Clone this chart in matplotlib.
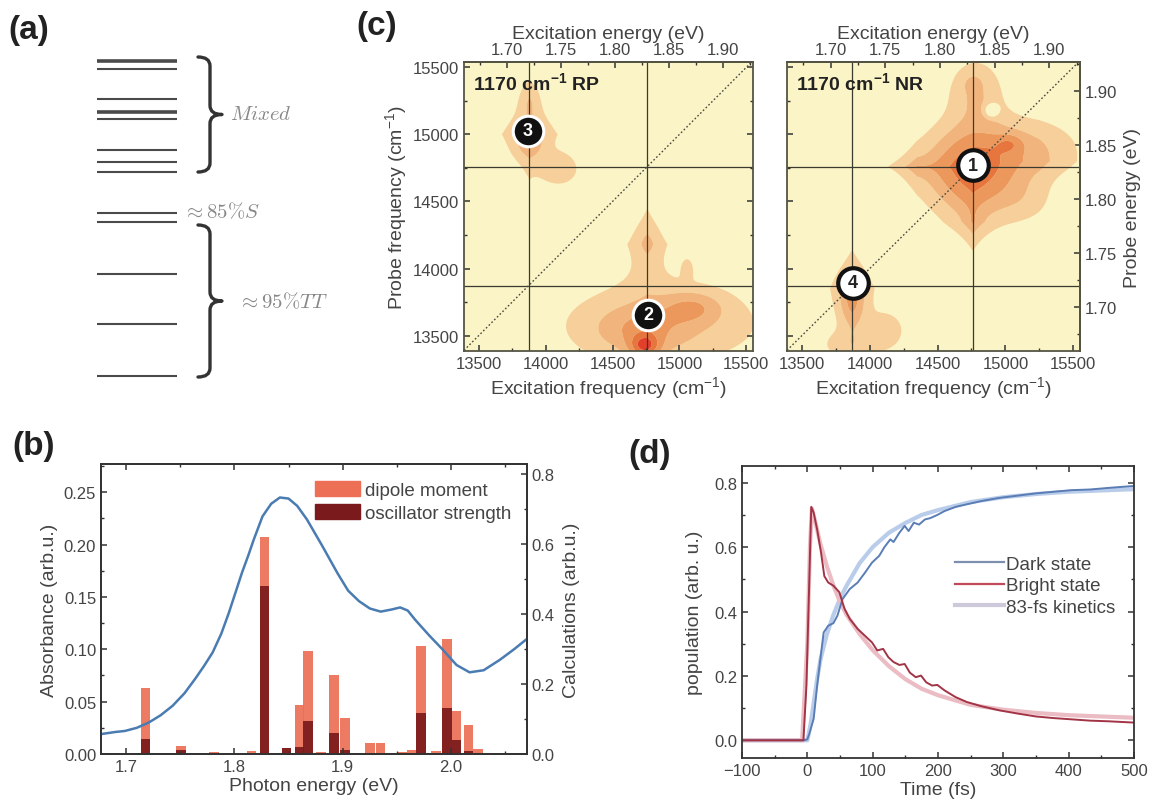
import numpy as np
import matplotlib
matplotlib.use("Agg")
import matplotlib.pyplot as plt
from matplotlib.path import Path
from matplotlib.patches import PathPatch, Patch
from matplotlib.lines import Line2D
from matplotlib.ticker import MultipleLocator, FormatStrFormatter, FixedLocator

# ---------------- data ----------------
# (a) energy levels (schematic, vertical position in px of the panel)
level_y = [61.5, 70, 99.5, 112.5, 120, 151, 162.5, 172.5, 213.5, 222.5, 274.5, 325, 377]
level_thick = [0, 3]

# (b) absorbance spectrum
abs_ev = [1.677, 1.690, 1.699, 1.710, 1.721, 1.732, 1.743, 1.754, 1.764, 1.772, 1.780, 1.788,
          1.795, 1.801, 1.807, 1.813, 1.818, 1.826, 1.834, 1.842, 1.850, 1.858, 1.867, 1.881,
          1.895, 1.905, 1.915, 1.925, 1.935, 1.945, 1.953, 1.960, 1.967, 1.980, 1.992, 2.005,
          2.017, 2.030, 2.045, 2.058, 2.070]
abs_val = [0.019, 0.021, 0.022, 0.025, 0.030, 0.037, 0.046, 0.058, 0.072, 0.084, 0.097, 0.115,
           0.135, 0.154, 0.173, 0.190, 0.205, 0.227, 0.239, 0.245, 0.244, 0.237, 0.224, 0.199,
           0.173, 0.156, 0.146, 0.139, 0.136, 0.138, 0.140, 0.137, 0.128, 0.113, 0.100, 0.085,
           0.078, 0.080, 0.090, 0.100, 0.110]
# (b) calculated transitions
calc_ev = [1.718, 1.751, 1.781, 1.816, 1.828, 1.848, 1.860, 1.868, 1.880, 1.892, 1.902, 1.925,
           1.935, 1.955, 1.964, 1.972, 1.986, 1.996, 2.005, 2.016, 2.025]
dipole = [0.19, 0.022, 0.006, 0.010, 0.62, 0.018, 0.14, 0.295, 0.006, 0.225, 0.102, 0.031,
          0.031, 0.006, 0.012, 0.31, 0.010, 0.33, 0.122, 0.083, 0.015]
oscill = [0.043, 0.012, 0.003, 0.004, 0.48, 0.016, 0.02, 0.094, 0.003, 0.060, 0.012, 0.004,
          0.004, 0.004, 0.004, 0.116, 0.004, 0.131, 0.040, 0.010, 0.004]

# (c) 2D maps: crosshair positions, energy ticks and peak labels
cross_ev = [1.72, 1.83]
ev_ticks = [1.70, 1.75, 1.80, 1.85, 1.90]
ev_minor = [1.675, 1.725, 1.775, 1.825, 1.875, 1.925]
rp_labels = ["3", "2"]
rp_lab_x = [13868, 14765]
rp_lab_y = [15026, 13655]
nr_labels = ["1", "4"]
nr_lab_x = [14760, 13873]
nr_lab_y = [14770, 13895]
# peak components: centre, widths, amplitude, shape exponent (1 = diamond, 2 = gaussian)
rp_cx = [13880, 13880, 14110, 13880, 14880, 14760, 14760, 14700, 14740, 15100, 15060]
rp_cy = [15000, 15250, 14740, 14930, 13580, 14180, 14190, 13540, 13420, 13710, 14000]
rp_sx = [170, 70, 140, 100, 800, 200, 60, 330, 110, 220, 45]
rp_sy = [260, 130, 120, 100, 320, 380, 90, 170, 90, 120, 80]
rp_amp = [0.50, 0.15, 0.25, 0.20, 0.30, 0.30, 0.12, 0.25, 0.60, 0.30, 0.15]
rp_pw = [1, 2, 2, 2, 2, 1, 2, 2, 2, 2, 2]

nr_cx = [14760, 14350, 14760, 14780, 14760, 15200, 15250, 15030, 15150, 14900,
         13870, 13870, 14130, 13850]
nr_cy = [14740, 14760, 14350, 15330, 15380, 14900, 14800, 14930, 14500, 15180,
         13850, 13740, 13540, 13430]
nr_sx = [330, 200, 90, 200, 60, 380, 300, 100, 220, 45, 150, 100, 160, 230]
nr_sy = [330, 90, 200, 240, 60, 230, 150, 70, 180, 45, 290, 180, 160, 120]
nr_amp = [0.74, 0.37, 0.37, 0.30, 0.12, 0.25, 0.12, 0.24, 0.15, -0.50, 0.40, 0.32, 0.20, 0.20]
nr_pw = [2, 1, 1, 2, 2, 2, 1, 2, 2, 2, 1, 2, 2, 2]

# (d) population dynamics
dark_t = [-100, -50, -10, -5, 0, 3, 9.7, 15, 21, 25, 32, 40, 46, 54, 65, 77, 88, 99, 110, 118,
          127, 132, 141, 149, 155, 163, 171, 180, 188, 199, 210, 227, 244, 266, 294, 322, 350,
          377, 405, 433, 461, 500]
dark_p = [0, 0, 0, 0, 0.003, 0.02, 0.067, 0.17, 0.27, 0.335, 0.356, 0.364, 0.387, 0.439, 0.47,
          0.49, 0.52, 0.552, 0.573, 0.60, 0.624, 0.616, 0.645, 0.666, 0.65, 0.676, 0.67, 0.686,
          0.69, 0.70, 0.712, 0.725, 0.733, 0.743, 0.753, 0.76, 0.767, 0.772, 0.777, 0.779, 0.784, 0.79]
bright_t = [-100, -50, -10, -6, -1.4, 2.5, 6, 9.7, 15, 21, 26, 32, 40, 49, 57, 65, 77, 88, 99,
            107, 116, 124, 132, 141, 149, 157, 166, 174, 182, 191, 199, 210, 227, 244, 266, 294,
            322, 350, 377, 405, 433, 461, 500]
bright_p = [0, 0, 0, 0, 0.17, 0.46, 0.725, 0.707, 0.655, 0.583, 0.51, 0.49, 0.48, 0.46, 0.408,
            0.377, 0.346, 0.325, 0.304, 0.279, 0.284, 0.258, 0.243, 0.234, 0.237, 0.21, 0.196,
            0.201, 0.18, 0.17, 0.172, 0.155, 0.134, 0.119, 0.106, 0.093, 0.083, 0.074, 0.069,
            0.065, 0.061, 0.059, 0.055]
fitd_t = [-100, -5, 0, 5, 10, 15, 20, 30, 40, 50, 60, 80, 100, 125, 150, 175, 200, 250, 300, 350, 400, 450, 500]
fitd_p = [0, 0, 0.0, 0.05, 0.12, 0.19, 0.25, 0.33, 0.39, 0.44, 0.48, 0.55, 0.60, 0.645, 0.675,
          0.70, 0.715, 0.74, 0.755, 0.765, 0.772, 0.776, 0.78]
fitb_t = [-100, -8, 0, 4, 7, 12, 20, 30, 40, 50, 60, 80, 100, 125, 150, 175, 200, 250, 300, 350, 400, 450, 500]
fitb_p = [0, 0, 0.30, 0.60, 0.72, 0.68, 0.61, 0.54, 0.48, 0.43, 0.39, 0.33, 0.28, 0.23, 0.19,
          0.16, 0.14, 0.11, 0.095, 0.085, 0.078, 0.074, 0.07]

# ---------------- style ----------------
plt.rcParams['font.family'] = ['Liberation Sans', 'DejaVu Sans']
plt.rcParams['mathtext.fontset'] = 'custom'
plt.rcParams['mathtext.rm'] = 'Liberation Sans'
plt.rcParams['mathtext.it'] = 'Liberation Sans:italic'
plt.rcParams['mathtext.bf'] = 'Liberation Sans:bold'
plt.rcParams['axes.linewidth'] = 1.3
plt.rcParams['axes.edgecolor'] = '#333333'
TXT = '#444444'
TICK_FS = 12
LAB_FS = 14

W, H = 1152, 812
fig = plt.figure(figsize=(W / 100, H / 100), dpi=100)


def px_axes(x0, y0, x1, y1):
    return fig.add_axes([x0 / W, 1 - y1 / H, (x1 - x0) / W, (y1 - y0) / H])


def style_ticks(ax, **kw):
    ax.tick_params(which='both', direction='in', labelsize=TICK_FS, colors='#333333',
                   labelcolor=TXT, **kw)
    ax.tick_params(which='major', length=4.5, width=1.1)
    ax.tick_params(which='minor', length=2.5, width=1.0)


# ---------------- panel (a) ----------------
ax_a = px_axes(0, 0, 360, 400)
ax_a.set_xlim(0, 360)
ax_a.set_ylim(400, 0)
ax_a.axis('off')
for i, y in enumerate(level_y):
    ax_a.plot([97, 177], [y, y], color='#4a4a4a', lw=2.6 if i in level_thick else 1.5,
              solid_capstyle='butt')


def brace(ax, x0, y0, y1, w, r=9):
    xm = x0 + 0.5 * w
    ym = 0.5 * (y0 + y1)
    verts = [(x0, y0), (xm, y0), (xm, y0 + r), (xm, ym - r), (xm, ym), (x0 + w, ym),
             (xm, ym), (xm, ym + r), (xm, y1 - r), (xm, y1), (x0, y1)]
    codes = [Path.MOVETO, Path.CURVE3, Path.CURVE3, Path.LINETO, Path.CURVE3, Path.CURVE3,
             Path.CURVE3, Path.CURVE3, Path.LINETO, Path.CURVE3, Path.CURVE3]
    ax.add_patch(PathPatch(Path(verts, codes), fc='none', ec='#333333', lw=2.4,
                           capstyle='round', joinstyle='round'))


brace(ax_a, 198, 58, 173, 24)
brace(ax_a, 198, 226, 378, 24)
ax_a.text(230, 114, r'$Mixed$', fontsize=15, color='#888888', va='center', math_fontfamily='cm')
ax_a.text(183, 212, r'$\approx 85\%S$', fontsize=15, color='#888888', va='center', math_fontfamily='cm')
ax_a.text(238, 302, r'$\approx 95\%TT$', fontsize=15, color='#888888', va='center', math_fontfamily='cm')

# ---------------- panel (b) ----------------
ax_b = px_axes(101, 465, 527, 755)
ax_b2 = ax_b.twinx()
ax_b.set_zorder(ax_b2.get_zorder() + 1)
ax_b.patch.set_visible(False)
bw = 0.0088
ax_b2.bar(calc_ev, dipole, width=bw, color='#ec6f56', alpha=0.92, lw=0)
ax_b2.bar(calc_ev, oscill, width=bw, color='#7a1a1c', alpha=0.92, lw=0)
ax_b.plot(abs_ev, abs_val, color='#4a7cb2', lw=1.8)
ax_b.set_xlim(1.677, 2.070)
ax_b.set_ylim(0, 0.277)
ax_b2.set_ylim(0, 0.83)
ax_b.xaxis.set_major_locator(MultipleLocator(0.1))
ax_b.xaxis.set_minor_locator(MultipleLocator(0.05))
ax_b.xaxis.set_major_formatter(FormatStrFormatter('%.1f'))
ax_b.yaxis.set_major_locator(MultipleLocator(0.05))
ax_b.yaxis.set_minor_locator(MultipleLocator(0.025))
ax_b.yaxis.set_major_formatter(FormatStrFormatter('%.2f'))
ax_b2.yaxis.set_major_locator(MultipleLocator(0.2))
ax_b2.yaxis.set_minor_locator(MultipleLocator(0.1))
ax_b2.yaxis.set_major_formatter(FormatStrFormatter('%.1f'))
style_ticks(ax_b, top=True, right=False)
style_ticks(ax_b2)
ax_b.set_xlabel('Photon energy (eV)', fontsize=LAB_FS, color=TXT, labelpad=2)
ax_b.set_ylabel('Absorbance (arb.u.)', fontsize=LAB_FS, color=TXT, labelpad=4)
ax_b2.set_ylabel('Calculations (arb.u.)', fontsize=LAB_FS, color=TXT, labelpad=6)
ax_b.legend([Patch(color='#ec6f56'), Patch(color='#7a1a1c')],
            ['dipole moment', 'oscillator strength'], loc='upper left',
            bbox_to_anchor=(0.48, 0.975), frameon=False, fontsize=13.5, handlelength=2.4,
            handleheight=0.85, handletextpad=0.25, labelspacing=0.28, borderpad=0,
            labelcolor=TXT)

# ---------------- panel (c) ----------------
CM_PER_EV = 8065.54
XL = (13390, 15550)
YL = (13385, 15540)
gx = np.linspace(XL[0], XL[1], 400)
gy = np.linspace(YL[0], YL[1], 400)
GX, GY = np.meshgrid(gx, gy)


def field(cx, cy, sx, sy, amp, pw):
    Z = np.zeros_like(GX)
    for i in range(len(cx)):
        u = np.abs(GX - cx[i]) / sx[i]
        v = np.abs(GY - cy[i]) / sy[i]
        Z += amp[i] * np.exp(-(u ** pw[i] + v ** pw[i]))
    return Z


levels = [0.15, 0.32, 0.5, 0.7, 0.9, 100]
lev_colors = ['#f6cf9a', '#f1b47d', '#ec985c', '#e6763e', '#e2402b']


def cm2ev(x):
    return x / CM_PER_EV


def ev2cm(e):
    return e * CM_PER_EV


def make_map(box, Z, title, lab_x, lab_y, labs, dark_marker, left_labels):
    ax = px_axes(*box)
    ax.set_facecolor('#fbf4c6')
    ax.contourf(GX, GY, Z, levels=levels, colors=lev_colors, antialiased=True)
    ax.set_xlim(*XL)
    ax.set_ylim(*YL)
    cr = [e * CM_PER_EV for e in cross_ev]
    for c in cr:
        ax.axvline(c, color='#3b3a30', lw=0.9)
        ax.axhline(c, color='#3b3a30', lw=0.9)
    ax.plot(XL, XL, color='#4a4a40', lw=1.0, ls=(0, (1.2, 1.6)))
    for x, y, s in zip(lab_x, lab_y, labs):
        if dark_marker:
            ax.plot(x, y, 'o', ms=22, mfc='#111111', mec='white', mew=2.2, zorder=5)
            ax.text(x, y, s, color='white', fontsize=13, fontweight='bold',
                    ha='center', va='center', zorder=6)
        else:
            ax.plot(x, y, 'o', ms=22, mfc='white', mec='#111111', mew=3.0, zorder=5)
            ax.text(x, y, s, color='#222222', fontsize=13, fontweight='bold',
                    ha='center', va='center', zorder=6)
    ax.text(0.03, 0.93, title, transform=ax.transAxes, fontsize=14, fontweight='bold',
            color='#222222', va='center', ha='left')
    ax.xaxis.set_major_locator(MultipleLocator(500))
    ax.xaxis.set_minor_locator(MultipleLocator(250))
    ax.yaxis.set_major_locator(MultipleLocator(500))
    ax.yaxis.set_minor_locator(MultipleLocator(250))
    style_ticks(ax, top=False, right=left_labels, left=True, labelleft=left_labels)
    ax.set_xlabel('Excitation frequency (cm$^{-1}$)', fontsize=LAB_FS, color=TXT, labelpad=2)
    sec = ax.secondary_xaxis('top', functions=(cm2ev, ev2cm))
    sec.xaxis.set_major_locator(FixedLocator(ev_ticks))
    sec.xaxis.set_minor_locator(FixedLocator(ev_minor))
    sec.xaxis.set_major_formatter(FormatStrFormatter('%.2f'))
    style_ticks(sec)
    sec.set_xlabel('Excitation energy (eV)', fontsize=LAB_FS, color=TXT, labelpad=3)
    if left_labels:
        ax.set_ylabel('Probe frequency (cm$^{-1}$)', fontsize=LAB_FS, color=TXT, labelpad=3)
    else:
        secy = ax.secondary_yaxis('right', functions=(cm2ev, ev2cm))
        secy.yaxis.set_major_locator(FixedLocator(ev_ticks))
        secy.yaxis.set_minor_locator(FixedLocator(ev_minor))
        secy.yaxis.set_major_formatter(FormatStrFormatter('%.2f'))
        style_ticks(secy)
        secy.set_ylabel('Probe energy (eV)', fontsize=LAB_FS, color=TXT, labelpad=5)
    for sp in ax.spines.values():
        sp.set_color('#555545')
    return ax


Z_rp = field(rp_cx, rp_cy, rp_sx, rp_sy, rp_amp, rp_pw)
Z_nr = field(nr_cx, nr_cy, nr_sx, nr_sy, nr_amp, nr_pw)
make_map((464, 63, 753, 352), Z_rp, '1170 cm$^{\\mathbf{-1}}$ RP', rp_lab_x, rp_lab_y,
         rp_labels, True, True)
make_map((787, 63, 1080, 352), Z_nr, '1170 cm$^{\\mathbf{-1}}$ NR', nr_lab_x, nr_lab_y,
         nr_labels, False, False)

# ---------------- panel (d) ----------------
ax_d = px_axes(742, 467, 1134, 759)
ax_d.plot(fitd_t, fitd_p, color='#b9cdea', lw=3.0, solid_capstyle='butt')
ax_d.plot(fitb_t, fitb_p, color='#ebbcc4', lw=3.0, solid_capstyle='butt')
ax_d.plot(dark_t, dark_p, color='#5a7db5', lw=1.4)
ax_d.plot(bright_t, bright_p, color='#a23446', lw=1.4)
ax_d.set_xlim(-100, 500)
ax_d.set_ylim(-0.055, 0.852)
ax_d.xaxis.set_major_locator(MultipleLocator(100))
ax_d.xaxis.set_minor_locator(MultipleLocator(50))
ax_d.yaxis.set_major_locator(MultipleLocator(0.2))
ax_d.yaxis.set_minor_locator(MultipleLocator(0.1))
ax_d.yaxis.set_major_formatter(FormatStrFormatter('%.1f'))
style_ticks(ax_d, top=True, right=True)
ax_d.set_xlabel('Time (fs)', fontsize=LAB_FS, color=TXT, labelpad=2)
ax_d.set_ylabel('population (arb. u.)', fontsize=LAB_FS, color=TXT, labelpad=8)
ax_d.legend([Line2D([], [], color='#7d8fae', lw=1.6), Line2D([], [], color='#c04a5a', lw=1.6),
             Line2D([], [], color='#cdc9da', lw=3.0)],
            ['Dark state', 'Bright state', '83-fs kinetics'], loc='center left',
            bbox_to_anchor=(0.5, 0.59), frameon=False, fontsize=13.5, handlelength=2.6,
            handletextpad=0.1, labelspacing=0.22, labelcolor=TXT)

# ---------------- panel labels ----------------
for s, x, y in [('(a)', 8, 30), ('(b)', 12, 447), ('(c)', 356, 27), ('(d)', 628, 455)]:
    fig.text(x / W, 1 - y / H, s, fontsize=24, fontweight='bold', color='#222222',
             ha='left', va='center')

fig.savefig('out.png', dpi=100, facecolor='white')
